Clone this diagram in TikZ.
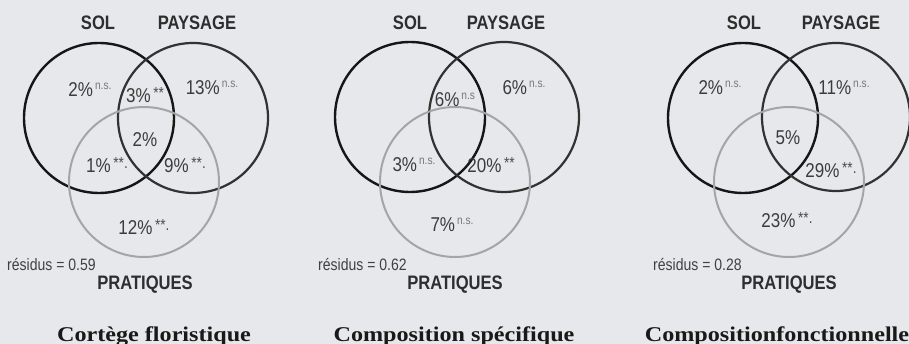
\documentclass[tikz,border=0pt]{standalone}
\usepackage{fontspec}
\newfontfamily\lblfont{Liberation Sans}[FakeStretch=0.85]
\newfontfamily\ttlfont{Liberation Serif}[FakeStretch=1.15]
\usepackage{tikz}
\usetikzlibrary{positioning}
\definecolor{fond}{RGB}{231,232,235}
\definecolor{solcol}{RGB}{22,22,22}
\definecolor{paycol}{RGB}{50,50,50}
\definecolor{pracol}{RGB}{165,165,165}
\definecolor{txtcol}{RGB}{60,60,60}
\definecolor{sigcol}{RGB}{120,120,120}
\newcommand{\sig}[1]{\raisebox{7.5pt}{\fontsize{12}{12}\selectfont\color{sigcol}\,#1}}
\newcommand{\etoiles}[1]{\raisebox{4pt}{\fontsize{16}{16}\selectfont\color{black!70}\,#1}}

\begin{document}
\begin{tikzpicture}[x=1pt, y=-1pt,
    solnode/.style={circle, draw=solcol, line width=2.4pt, minimum size=150pt, inner sep=0pt},
    paynode/.style={circle, draw=paycol, line width=2.2pt, minimum size=150pt, inner sep=0pt},
    pranode/.style={circle, draw=pracol, line width=2pt, minimum size=150pt, inner sep=0pt},
    setname/.style={font=\lblfont\bfseries\fontsize{19.5}{19.5}\selectfont, text=black!82, inner sep=0pt},
    pct/.style={font=\lblfont\fontsize{20}{20}\selectfont, text=txtcol, inner sep=0pt},
    resid/.style={font=\lblfont\fontsize{16.5}{16.5}\selectfont, text=black!75, inner sep=0pt, anchor=west},
    titre/.style={font=\ttlfont\bfseries\fontsize{21}{21}\selectfont, text=black!90, inner sep=0pt, anchor=base}]
    \path[use as bounding box, fill=fond] (0,0) rectangle (909,344);

    % Cortege floristique
    \node[solnode]  (sol1)  at (99,118)  {};
    \node[paynode]  (pay1)  at (193,118) {};
    \node[pranode]  (pra1)  at (144,182) {};
    \node[setname]  (lsol1) at (98,23)   {SOL};
    \node[setname]  (lpay1) at (197,23)  {PAYSAGE};
    \node[setname]  (lpra1) at (145,285) {PRATIQUES};
    \node[resid]    (res1)  at (7,265)   {résidus = 0.59};
    \node[pct] (a1) at (90,90)   {2\%\sig{n.s.}};
    \node[pct] (b1) at (145,95)  {3\%\etoiles{**}};
    \node[pct] (c1) at (212,88)  {13\%\sig{n.s.}};
    \node[pct] (d1) at (145,140) {2\%};
    \node[pct] (e1) at (107,165) {1\%\etoiles{**.}};
    \node[pct] (f1) at (185,165) {9\%\etoiles{**.}};
    \node[pct] (g1) at (144,227) {12\%\etoiles{**.}};
    \node[titre] (titre1) at (154,341) {Cortège floristique};

    % Composition specifique
    \node[solnode]  (sol2)  at (410,117) {};
    \node[paynode]  (pay2)  at (504,117) {};
    \node[pranode]  (pra2)  at (455,182) {};
    \node[setname]  (lsol2) at (410,23)  {SOL};
    \node[setname]  (lpay2) at (506,23)  {PAYSAGE};
    \node[setname]  (lpra2) at (455,285) {PRATIQUES};
    \node[resid]    (res2)  at (318,265) {résidus = 0.62};
    \node[pct] (b2) at (455,100) {6\%\sig{n.s}};
    \node[pct] (c2) at (524,88)  {6\%\sig{n.s.}};
    \node[pct] (e2) at (414,165) {3\%\sig{n.s.}};
    \node[pct] (f2) at (491,165) {20\%\etoiles{**}};
    \node[pct] (g2) at (452,225) {7\%\sig{n.s.}};
    \node[titre] (titre2) at (454,341) {Composition spécifique};

    % Composition fonctionnelle
    \node[solnode]  (sol3)  at (743,118) {};
    \node[paynode, minimum size=148pt] (pay3) at (836,117) {};
    \node[pranode]  (pra3)  at (789,182) {};
    \node[setname]  (lsol3) at (744,23)  {SOL};
    \node[setname]  (lpay3) at (841,23)  {PAYSAGE};
    \node[setname]  (lpra3) at (789,285) {PRATIQUES};
    \node[resid]    (res3)  at (653,265) {résidus = 0.28};
    \node[pct] (a3) at (720,88)  {2\%\sig{n.s.}};
    \node[pct] (c3) at (844,88)  {11\%\sig{n.s.}};
    \node[pct] (d3) at (788,138) {5\%};
    \node[pct] (f3) at (831,170) {29\%\etoiles{**.}};
    \node[pct] (g3) at (787,220) {23\%\etoiles{**.}};
    \node[titre] (titre3) at (777,341) {Compositionfonctionnelle};
\end{tikzpicture}
\end{document}
